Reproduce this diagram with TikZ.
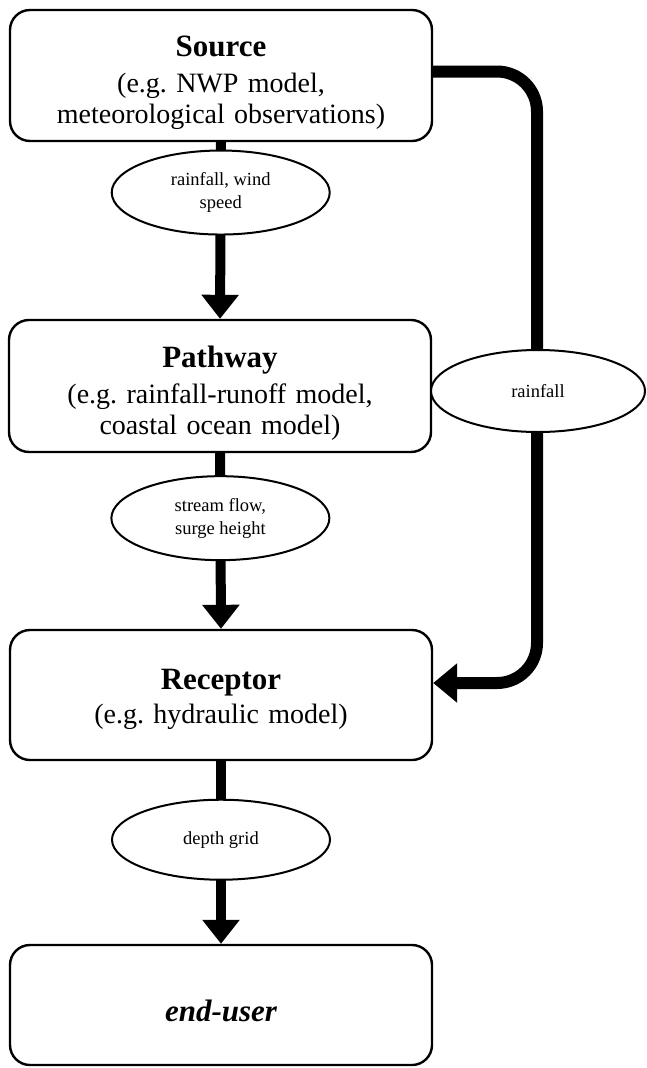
\documentclass[tikz,border=0pt]{standalone}
\usepackage{fontspec}
\setmainfont{Liberation Serif}
\usetikzlibrary{arrows.meta,shapes.geometric}
\frenchspacing
\tikzset{
  box/.style={draw, line width=2.4pt, rounded corners=20pt, minimum width=422pt, text width=416pt, align=center, inner sep=0pt, fill=white, font=\fontsize{28}{31}\selectfont},
  lab/.style={draw, ellipse, line width=2pt, fill=white, minimum width=218pt, minimum height=84pt, inner sep=0pt, align=center, font=\fontsize{18.5}{23}\selectfont},
  arr/.style={line width=10pt, -{Triangle[width=36pt,length=24pt]}},
  side/.style={line width=12pt, rounded corners=40pt, -{Triangle[width=38pt,length=24pt]}},
}
\newcommand{\ttl}[1]{{\fontsize{31}{31}\selectfont\bfseries #1}}
\begin{document}
\begin{tikzpicture}[x=1pt,y=-1pt]
\useasboundingbox (0,0) rectangle (646,1068);
\node[box, minimum height=131pt] (src) at (221,75.5) {\rule{0pt}{36pt}\ttl{Source}\\[5pt](e.g. NWP model,\\ meteorological observations)};
\node[box, minimum height=132pt] (path) at (220,386) {\rule{0pt}{36pt}\ttl{Pathway}\\[5pt](e.g. rainfall-runoff model,\\ coastal ocean model)};
\node[box, minimum height=130pt] (rec) at (221,695) {\rule{0pt}{30pt}\ttl{Receptor}\\[3pt](e.g. hydraulic model)};
\node[box, minimum height=120pt] (end) at (221,1005) {\rule{0pt}{33pt}\ttl{\itshape end-user}};
\draw[arr] (src.south) -- node[lab, pos=0.285] (l1) {rainfall, wind\\speed} (path.north);
\draw[arr] (path.south) -- node[lab, pos=0.37] (l2) {stream flow,\\surge height} (rec.north);
\draw[arr] (rec.south) -- node[lab, pos=0.43, minimum height=80pt] (l3) {depth grid} (end.north);
\coordinate (rc) at (537,0);
\coordinate (s0) at ([yshift=4pt]src.east);
\coordinate (r0) at ([yshift=12pt]rec.east);
\draw[side] (s0) -| (rc |- r0) -- (r0);
\node[lab, minimum width=214pt, minimum height=82pt] (l4) at (538,391) {rainfall};
\end{tikzpicture}
\end{document}
